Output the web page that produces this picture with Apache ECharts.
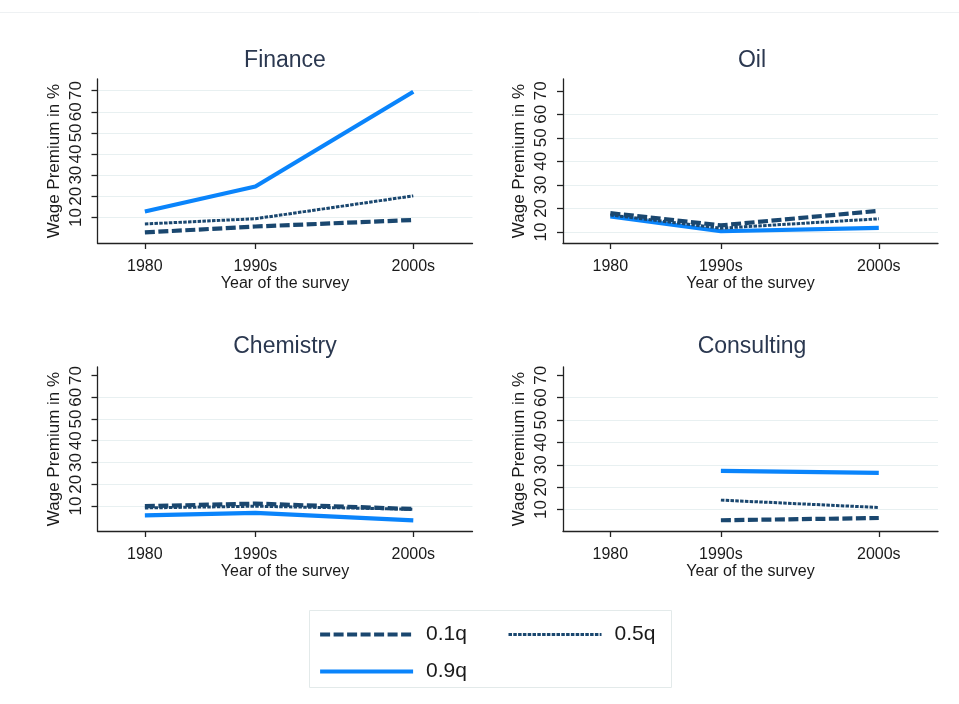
<!DOCTYPE html>
<html>
<head>
<meta charset="utf-8">
<script src="https://cdn.jsdelivr.net/npm/echarts@6/dist/echarts.min.js"></script>
<style>html,body{margin:0;padding:0;background:#fff;}#c{width:959px;height:704px;}</style>
</head>
<body>
<div id="c"></div>
<script>
// ---- data ----
const surveyYears = [1980, 1994, 2014];
const yearLabels = ['1980', '1990s', '2000s'];
const yTicks = [10, 20, 30, 40, 50, 60, 70];
const panelNames = ['Finance', 'Oil', 'Chemistry', 'Consulting'];
const quantiles = ['0.1q', '0.5q', '0.9q'];

const financeQ10 = [2.9, 5.7, 8.8];
const financeQ50 = [6.9, 9.4, 20.2];
const financeQ90 = [12.8, 24.6, 69.5];

const oilQ10 = [18.0, 12.8, 19.0];
const oilQ50 = [17.2, 11.6, 15.6];
const oilQ90 = [16.6, 10.3, 11.7];

const chemistryQ10 = [9.9, 11.1, 8.6];
const chemistryQ50 = [9.1, 9.9, 8.5];
const chemistryQ90 = [5.7, 6.8, 3.4];

const consultingQ10 = [null, 5.2, 6.2];
const consultingQ50 = [null, 14.2, 10.9];
const consultingQ90 = [null, 27.3, 26.4];

const panelSeries = [
  [financeQ10, financeQ50, financeQ90],
  [oilQ10, oilQ50, oilQ90],
  [chemistryQ10, chemistryQ50, chemistryQ90],
  [consultingQ10, consultingQ50, consultingQ90]
];

// ---- layout / style ----
const grids = [
  {left: 97.5, top: 79, width: 375, height: 164},
  {left: 563, top: 79, width: 375, height: 164},
  {left: 97.5, top: 367, width: 375, height: 164},
  {left: 563, top: 367, width: 375, height: 164}
];
const yRanges = [[-2.1, 75.5], [5.3, 75], [-1.5, 73.9], [0.4, 73.7]];
const titlePos = [[285, 61], [752, 61], [285, 347], [752, 347]];
const showTopGrid = [true, false, false, false];

const NAVY = '#1a476f';
const BLUE = '#0a84fb';
const FONT = 'Arial, "Liberation Sans", sans-serif';
const seriesColors = [NAVY, NAVY, BLUE];
const lineStyles = [
  {color: NAVY, width: 4.2, type: [10, 3.5], cap: 'butt'},
  {color: NAVY, width: 3, type: [3.5, 1.3], cap: 'butt'},
  {color: BLUE, width: 4.2, type: 'solid', cap: 'butt'}
];

const gridColor = '#e8f0f1';
const xAxes = [], yAxes = [], series = [], graphics = [];

grids.forEach((g, i) => {
  xAxes.push({
    gridIndex: i, type: 'value', min: 1974, max: 2021.5,
    name: 'Year of the survey', nameLocation: 'middle', nameGap: 30,
    nameTextStyle: {fontFamily: FONT, fontSize: 16, color: '#1a1a1a'},
    axisLine: {show: true, onZero: false, lineStyle: {color: '#222', width: 1.3}},
    axisTick: {show: true, customValues: surveyYears, length: 6, lineStyle: {color: '#222', width: 1.3}},
    axisLabel: {customValues: surveyYears, margin: 16, fontFamily: FONT, fontSize: 16, color: '#1a1a1a',
      formatter: v => yearLabels[surveyYears.indexOf(v)] || ''},
    splitLine: {show: false}
  });
  yAxes.push({
    gridIndex: i, type: 'value', min: yRanges[i][0], max: yRanges[i][1],
    name: 'Wage Premium in %', nameLocation: 'middle', nameGap: 35,
    nameTextStyle: {fontFamily: FONT, fontSize: 17, color: '#1a1a1a'},
    axisLine: {show: true, onZero: false, lineStyle: {color: '#222', width: 1.3}},
    axisTick: {show: true, customValues: yTicks, length: 6, lineStyle: {color: '#222', width: 1.3}},
    axisLabel: {customValues: yTicks, rotate: 90, margin: 13, fontFamily: FONT, fontSize: 17, color: '#1a1a1a'},
    splitLine: {show: true, lineStyle: {width: 1,
      color: yTicks.map(t => (t === 70 && !showTopGrid[i]) ? 'rgba(0,0,0,0)' : gridColor)}}
  });
  panelSeries[i].forEach((vals, k) => {
    series.push({
      name: quantiles[k], type: 'line', xAxisIndex: i, yAxisIndex: i,
      data: surveyYears.map((yr, j) => vals[j] == null ? null : [yr, vals[j]]).filter(p => p),
      showSymbol: false, symbol: 'none', silent: true, animation: false,
      itemStyle: {color: seriesColors[k]},
      lineStyle: lineStyles[k], z: k === 2 ? 3 : 4
    });
  });
  graphics.push({
    type: 'text', x: titlePos[i][0], y: titlePos[i][1],
    style: {text: panelNames[i], align: 'center', verticalAlign: 'middle',
      fontFamily: FONT, fontSize: 23, fill: '#2b3850'}
  });
});

graphics.push({type: 'rect', shape: {x: 309.5, y: 610.5, width: 362, height: 77},
  style: {fill: 'none', stroke: '#e3eaea', lineWidth: 1}});
graphics.push({type: 'line', shape: {x1: 0, y1: 12.5, x2: 959, y2: 12.5},
  style: {stroke: '#eef1f3', lineWidth: 1}});

const legendBase = {
  orient: 'vertical', padding: 0, itemWidth: 93, itemHeight: 14, itemGap: 16,
  itemStyle: {opacity: 0, borderWidth: 0},
  lineStyle: {width: 'inherit', type: 'inherit', cap: 'butt'},
  textStyle: {fontFamily: FONT, fontSize: 21, color: '#1a1a1a', padding: [0, 0, 0, 8]},
  selectedMode: false
};

const chart = echarts.init(document.getElementById('c'), null, {renderer: 'canvas'});
chart.setOption({
  backgroundColor: '#fff',
  animation: false,
  grid: grids.map(g => Object.assign({containLabel: false}, g)),
  xAxis: xAxes,
  yAxis: yAxes,
  legend: [
    Object.assign({}, legendBase, {data: [quantiles[0], quantiles[2]], left: 318, top: 624}),
    Object.assign({}, legendBase, {data: [quantiles[1]], left: 507, top: 624})
  ],
  graphic: graphics,
  series: series
});
</script>
</body>
</html>
